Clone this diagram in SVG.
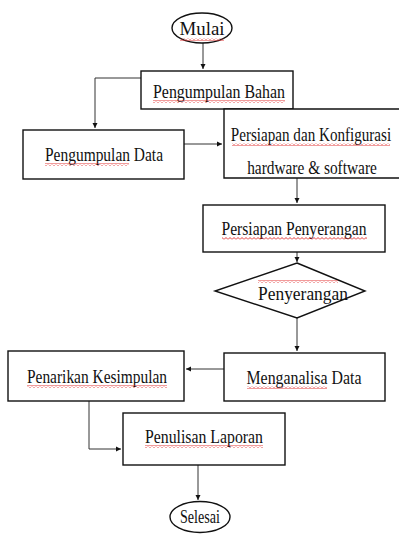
<svg xmlns="http://www.w3.org/2000/svg" width="399" height="539" viewBox="0 0 399 539">
<defs>
<marker id="ah" markerWidth="6" markerHeight="6" refX="5" refY="3" orient="auto" markerUnits="userSpaceOnUse">
<path d="M0,0.5 L5,3 L0,5.5 Z" fill="#111"/>
</marker>
<pattern id="wave" width="4" height="3" patternUnits="userSpaceOnUse">
<path d="M0,2.5 L2,0.5 L4,2.5" fill="none" stroke="#e02020" stroke-width="0.9"/>
</pattern>
<style>
.box{fill:#fff;stroke:#111;stroke-width:1.4}
.t{font-family:"Liberation Serif","Times New Roman",serif;font-size:19px;fill:#111;text-anchor:middle}
.c{fill:none;stroke:#333;stroke-width:1}
.w{fill:url(#wave)}
</style>
</defs>
<rect width="399" height="539" fill="#fff"/>
<g id="connectors">
<path class="c" d="M203,43 V69" marker-end="url(#ah)"/>
<path class="c" d="M141,78 H95 V128" marker-end="url(#ah)"/>
<path class="c" d="M184,144 H222" marker-end="url(#ah)"/>
<path class="c" d="M297,178 V203" marker-end="url(#ah)"/>
<path class="c" d="M297,252 V262" marker-end="url(#ah)"/>
<path class="c" d="M297,318 V351" marker-end="url(#ah)"/>
<path class="c" d="M224,369 H186" marker-end="url(#ah)"/>
<path class="c" d="M89,401 V449 H121" marker-end="url(#ah)"/>
<path class="c" d="M198,465 V500" marker-end="url(#ah)"/>
</g>
<g id="mulai">
<ellipse cx="202" cy="28" rx="30" ry="15" class="box"/>
<text class="t" x="202" y="35" textLength="45" lengthAdjust="spacingAndGlyphs">Mulai</text>
<rect class="w" x="180" y="38" width="44" height="3"/>
</g>
<g id="pengumpulan-bahan">
<rect class="box" x="141" y="71" width="152" height="38"/>
<text class="t" x="219" y="98" textLength="132" lengthAdjust="spacingAndGlyphs">Pengumpulan Bahan</text>
<rect class="w" x="153" y="100" width="132" height="3"/>
</g>
<g id="persiapan-konfigurasi">
<path class="box" d="M400,109 H224 V178 H400"/>
<text class="t" transform="translate(311,141) scale(0.796,1)">Persiapan dan Konfigurasi</text>
<rect class="w" x="232" y="143" width="158" height="3"/>
<text class="t" transform="translate(312,174) scale(0.81,1)">hardware &amp; software</text>
</g>
<g id="pengumpulan-data">
<rect class="box" x="23" y="130" width="161" height="49"/>
<text class="t" x="104" y="161" textLength="118" lengthAdjust="spacingAndGlyphs">Pengumpulan Data</text>
<rect class="w" x="45" y="163" width="84" height="3"/>
</g>
<g id="persiapan-penyerangan">
<rect class="box" x="203" y="205" width="182" height="47"/>
<text class="t" x="294" y="235" textLength="145" lengthAdjust="spacingAndGlyphs">Persiapan Penyerangan</text>
<rect class="w" x="222" y="237" width="145" height="3"/>
</g>
<g id="penyerangan">
<polygon class="box" points="297,263 365,291 297,318 215,291"/>
<rect class="w" x="258" y="280" width="80" height="3"/>
<text class="t" x="303" y="300" textLength="90" lengthAdjust="spacingAndGlyphs">Penyerangan</text>
</g>
<g id="menganalisa-data">
<rect class="box" x="224" y="353" width="161" height="48"/>
<text class="t" x="304" y="384" textLength="115" lengthAdjust="spacingAndGlyphs">Menganalisa Data</text>
<rect class="w" x="247" y="386" width="80" height="3"/>
</g>
<g id="penarikan-kesimpulan">
<rect class="box" x="8" y="351" width="176" height="50"/>
<text class="t" x="97" y="383" textLength="140" lengthAdjust="spacingAndGlyphs">Penarikan Kesimpulan</text>
<rect class="w" x="27" y="385" width="140" height="3"/>
</g>
<g id="penulisan-laporan">
<rect class="box" x="123" y="413" width="162" height="52"/>
<text class="t" x="204" y="443" textLength="118" lengthAdjust="spacingAndGlyphs">Penulisan Laporan</text>
<rect class="w" x="145" y="445" width="118" height="3"/>
</g>
<g id="selesai">
<ellipse cx="200" cy="517" rx="30" ry="15.5" class="box"/>
<text class="t" x="200" y="523" textLength="40" lengthAdjust="spacingAndGlyphs">Selesai</text>
</g>
</svg>
